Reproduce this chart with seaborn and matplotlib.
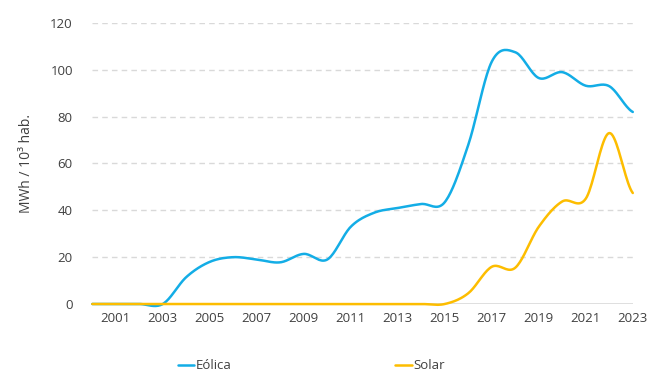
import numpy as np
import pandas as pd
import matplotlib
matplotlib.use("Agg")
import matplotlib.pyplot as plt
import seaborn as sns

# valores (MWh / 10^3 hab.)
years = list(range(2000, 2024))
eolica = [0, 0, 0, 0, 11.5, 18, 20, 19, 17.8, 21.4, 19, 33, 39, 41, 42.7, 43.5,
          68, 103.5, 107.5, 96.5, 99, 93.2, 93, 82]
solar = [0, 0, 0, 0, 0, 0, 0, 0, 0, 0, 0, 0, 0, 0, 0, 0,
         4.6, 15.9, 15.5, 33, 43.8, 45, 73, 47.4]
series_names = ["Eólica", "Solar"]
colors = {"Eólica": "#13ADE6", "Solar": "#FDBD00"}


def smooth(x, y, n=20):
    # curva suavizada tipo Catmull-Rom (como las líneas suavizadas de Excel)
    x = np.asarray(x, float)
    y = np.asarray(y, float)
    px = np.concatenate([[2 * x[0] - x[1]], x, [2 * x[-1] - x[-2]]])
    py = np.concatenate([[y[0]], y, [y[-1]]])
    xs, ys = [], []
    t = np.linspace(0, 1, n, endpoint=False)
    for i in range(1, len(px) - 2):
        for arr, out in ((px, xs), (py, ys)):
            p0, p1, p2, p3 = arr[i - 1], arr[i], arr[i + 1], arr[i + 2]
            m1 = (p2 - p0) / 2
            m2 = (p3 - p1) / 2
            h00 = 2 * t**3 - 3 * t**2 + 1
            h10 = t**3 - 2 * t**2 + t
            h01 = -2 * t**3 + 3 * t**2
            h11 = t**3 - t**2
            out.extend(h00 * p1 + h10 * m1 + h01 * p2 + h11 * m2)
    xs.append(x[-1])
    ys.append(y[-1])
    return np.array(xs), np.array(ys)


frames = []
for name, vals in zip(series_names, [eolica, solar]):
    sx, sy = smooth(years, vals)
    frames.append(pd.DataFrame({"year": sx, "value": sy, "serie": name}))
df = pd.concat(frames, ignore_index=True)

sns.set_theme(style="white")
plt.rcParams["font.family"] = ["Open Sans", "DejaVu Sans"]

fig = plt.figure(figsize=(6.64, 3.80), dpi=100)
ax = fig.add_axes([0.139, 0.2, 0.814, 0.7395])

for y in range(20, 121, 20):
    ax.axhline(y, color="#D9D9D9", lw=1, ls=(0, (4, 3)), zorder=0)
ax.axhline(0, color="#D9D9D9", lw=1.2, zorder=0)

n_before = len(ax.lines)
sns.lineplot(data=df, x="year", y="value", hue="serie", palette=colors,
             hue_order=series_names, lw=1.8, ax=ax, sort=False,
             estimator=None, legend=True)
# las dos curvas de datos (las siguientes son los manejadores de la leyenda)
for k, line in enumerate(ax.lines[n_before:n_before + 2]):
    line.set_clip_on(False)
    line.set_zorder(3 + k)

ax.set_xlim(2000, 2023)
ax.set_ylim(0, 120)
ax.set_xticks(list(range(2001, 2024, 2)))
ax.set_yticks(list(range(0, 121, 20)))
ax.tick_params(axis="x", labelsize=9.5, colors="#404040", pad=6, length=0)
ax.tick_params(axis="y", labelsize=9.5, colors="#404040", pad=14, length=0)
for s in ax.spines.values():
    s.set_visible(False)
ax.set_xlabel("")
ax.set_ylabel("MWh / 10³ hab.", fontsize=10, color="#404040", labelpad=12)

handles, labels = ax.get_legend_handles_labels()
ax.legend(handles, labels, loc="center", bbox_to_anchor=(0.405, -0.22),
          ncol=2, frameon=False, fontsize=9.5, handlelength=1.25,
          handletextpad=0.1, columnspacing=12.4, labelcolor="#404040")

fig.savefig("out.png", dpi=100)
